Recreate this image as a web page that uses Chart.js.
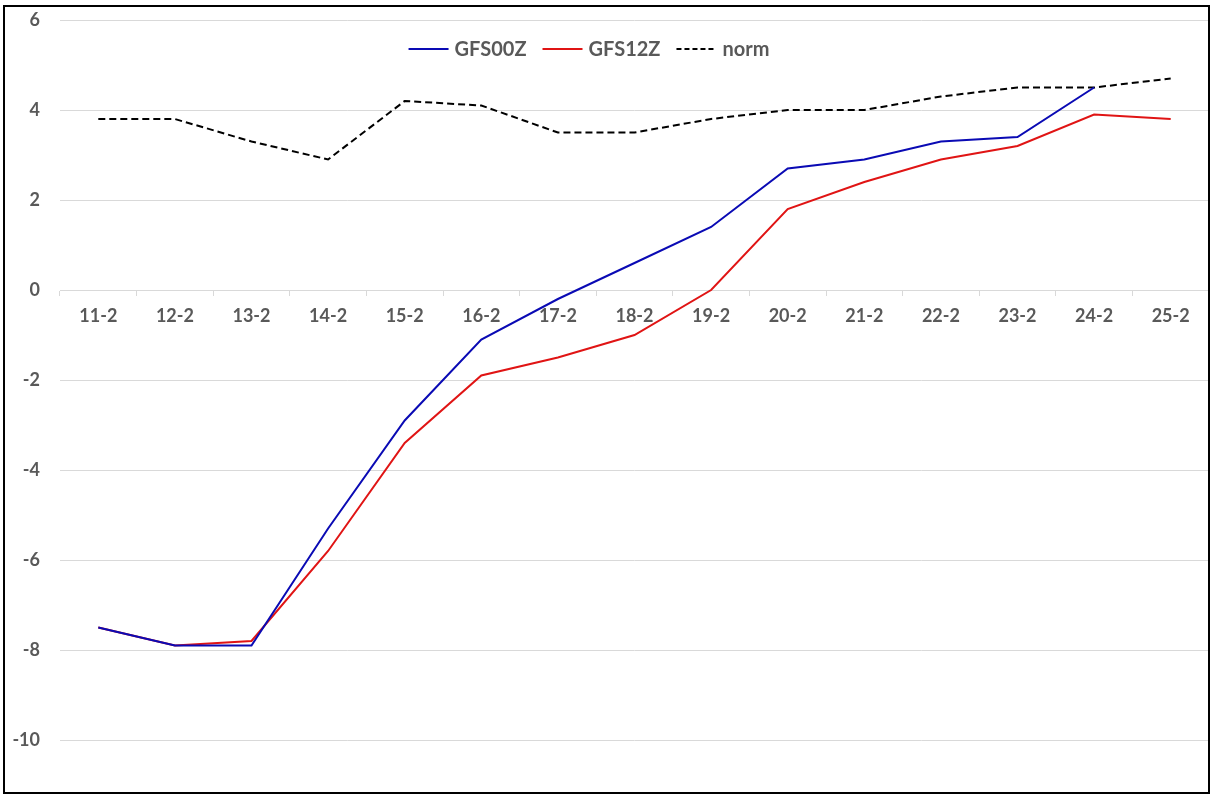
<!DOCTYPE html>
<html>
<head>
<meta charset="utf-8">
<script src="https://cdn.jsdelivr.net/npm/chart.js@4/dist/chart.umd.min.js"></script>
<style>
  html, body { margin: 0; padding: 0; background: #fff; }
  #wrap { position: relative; width: 1212px; height: 797px; }
  #frame { position: absolute; left: 3px; top: 5px; width: 1203px; height: 785px; border: 2px solid #000; pointer-events: none; }
</style>
</head>
<body>
<div id="wrap">
  <canvas id="chart" width="1212" height="797"></canvas>
  <div id="frame"></div>
</div>
<script>
const days = ['11-2', '12-2', '13-2', '14-2', '15-2', '16-2', '17-2', '18-2', '19-2', '20-2', '21-2', '22-2', '23-2', '24-2', '25-2'];
const gfs00z = [-7.5, -7.9, -7.9, -5.3, -2.9, -1.1, -0.2, 0.6, 1.4, 2.7, 2.9, 3.3, 3.4, 4.5, null];
const gfs12z = [-7.5, -7.9, -7.8, -5.8, -3.4, -1.9, -1.5, -1.0, 0.0, 1.8, 2.4, 2.9, 3.2, 3.9, 3.8];
const norm = [3.8, 3.8, 3.3, 2.9, 4.2, 4.1, 3.5, 3.5, 3.8, 4.0, 4.0, 4.3, 4.5, 4.5, 4.7];
const yTicks = [-10, -8, -6, -4, -2, 0, 2, 4, 6];

const labelFont = { family: 'Lato, "Open Sans", sans-serif', size: 18, weight: 'bold' };
const grey = '#595959';

// legend drawn inside the plot, centred near the top (like the Excel one)
const insideLegend = {
    id: 'insideLegend',
    afterDraw(chart) {
        const c = chart.ctx;
        const sets = chart.data.datasets;
        const lineLen = 40, gapText = 6, gapItem = 16;
        c.save();
        c.font = 'bold 20px Lato, "Open Sans", sans-serif';
        c.textBaseline = 'middle';
        let total = 0;
        sets.forEach((d, i) => {
            total += lineLen + gapText + c.measureText(d.label).width + (i < sets.length - 1 ? gapItem : 0);
        });
        let x = 589 - total / 2;
        const y = 49;
        sets.forEach(d => {
            c.strokeStyle = d.borderColor;
            c.lineWidth = 2;
            c.setLineDash(d.borderDash ? [5, 3] : []);
            c.beginPath();
            c.moveTo(x, y);
            c.lineTo(x + lineLen, y);
            c.stroke();
            x += lineLen + gapText;
            c.fillStyle = grey;
            c.fillText(d.label, x, y + 1);
            x += c.measureText(d.label).width + gapItem;
        });
        c.restore();
    }
};

const ctx = document.getElementById('chart').getContext('2d');
const chart = new Chart(ctx, {
    type: 'line',
    data: {
        labels: days,
        datasets: [
            { label: 'GFS00Z', data: gfs00z, borderColor: '#0a0ab4', backgroundColor: '#0a0ab4', borderWidth: 2, pointRadius: 0, tension: 0 },
            { label: 'GFS12Z', data: gfs12z, borderColor: '#e01414', backgroundColor: '#e01414', borderWidth: 2, pointRadius: 0, tension: 0 },
            { label: 'norm', data: norm, borderColor: '#000', backgroundColor: '#000', borderWidth: 2, borderDash: [7, 4], pointRadius: 0, tension: 0 }
        ]
    },
    options: {
        responsive: false,
        animation: false,
        layout: { padding: { left: 0, right: 3, top: 20, bottom: 12 } },
        plugins: {
            tooltip: { enabled: false },
            legend: { display: false }
        },
        scales: {
            x: {
                position: { y: 0 },
                offset: true,
                border: { color: '#d9d9d9', width: 1 },
                grid: { drawOnChartArea: false, drawTicks: true, tickLength: 5, color: '#d9d9d9', offset: true },
                ticks: { color: grey, font: labelFont, padding: 10, maxRotation: 0, autoSkip: false }
            },
            y: {
                min: -11,
                max: 6,
                border: { display: false },
                grid: { color: '#d9d9d9', drawTicks: true, tickLength: 20, tickColor: 'rgba(0,0,0,0)' },
                ticks: { color: grey, font: labelFont, padding: 0 },
                afterBuildTicks: scale => { scale.ticks = yTicks.map(v => ({ value: v })); },
                afterFit: scale => { scale.width = 60; }
            }
        }
    },
    plugins: [insideLegend]
});
</script>
</body>
</html>
